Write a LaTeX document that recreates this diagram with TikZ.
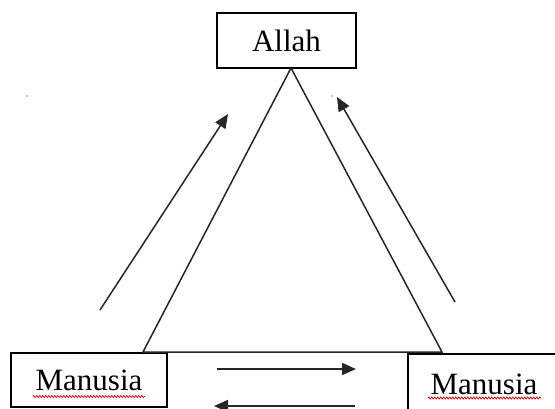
\documentclass[tikz,border=0pt]{standalone}
\usepackage{fontspec}
\setmainfont{Liberation Serif}
\usetikzlibrary{arrows.meta,decorations.pathmorphing}
\begin{document}
\begin{tikzpicture}[x=1pt,y=-1pt,
  box/.style={draw=black,line width=1.4pt,inner sep=0pt,font=\fontsize{31}{36}\selectfont},
  edge/.style={draw=black!85,line width=1.5pt},
  arr/.style={draw=black!85,line width=1.5pt,-{Triangle[length=14pt,width=12pt]}},
  squig/.style={draw=red!85!black,line width=0.7pt,decorate,decoration={zigzag,amplitude=1.1pt,segment length=3pt}}]
\useasboundingbox (0,0) rectangle (555,408);
\node[box,minimum width=139pt,minimum height=55pt] (allah) at (286.5,40.5) {Allah};
\node[box,minimum width=156pt,minimum height=54pt] (m1) at (89,380) {Manusia};
\node[box,minimum width=152pt,minimum height=60pt] (m2) at (484,384) {Manusia};
% triangle
\coordinate (apex) at (291,68);
\coordinate (tl) at (143,352);
\coordinate (tr) at (442,352);
\draw[edge,line join=miter] (apex) -- (tl) -- (tr) -- cycle;
% slanted arrows
\coordinate (a1s) at (100,310);
\coordinate (a1e) at (228,114);
\coordinate (a2s) at (455,302);
\coordinate (a2e) at (337,97);
\draw[arr] (a1s) -- (a1e);
\draw[arr] (a2s) -- (a2e);
% horizontal arrows
\coordinate (h1s) at (217,369);
\coordinate (h1e) at (356,369);
\coordinate (h2s) at (355,406);
\coordinate (h2e) at (214,406);
\draw[arr] (h1s) -- (h1e);
\draw[arr] (h2s) -- (h2e);
% spell-check underlines
\coordinate (u1s) at (33,396.5);
\coordinate (u1e) at (145,396.5);
\coordinate (u2s) at (428,398);
\coordinate (u2e) at (541,398);
\draw[squig] (u1s) -- (u1e);
\draw[squig] (u2s) -- (u2e);
% stray dots
\fill[black!45] (27,96) circle (0.8pt);
\fill[black!45] (332,96) circle (0.8pt);
\end{tikzpicture}
\end{document}
